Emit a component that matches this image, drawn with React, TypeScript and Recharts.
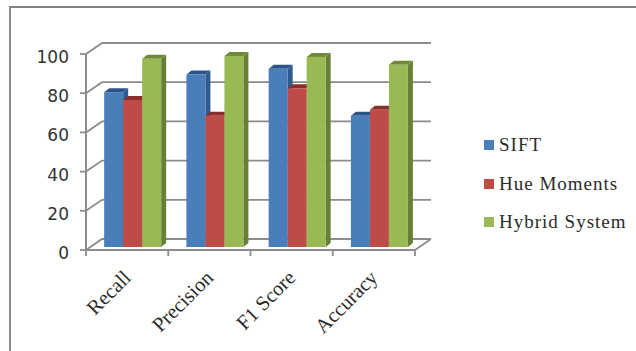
import { BarChart, Bar, XAxis, YAxis, CartesianGrid, Legend } from 'recharts';

const categories = ['Recall', 'Precision', 'F1 Score', 'Accuracy'];
const sift = [79, 88, 91, 67];
const hueMoments = [75, 67, 81, 70];
const hybridSystem = [96, 97.5, 97, 93];
const yTicks = [0, 20, 40, 60, 80, 100];

const data = categories.map((name, i) => ({
  name,
  sift: sift[i],
  hue: hueMoments[i],
  hybrid: hybridSystem[i],
}));

const series = [
  { key: 'sift', name: 'SIFT', front: '#4a7ebb', top: '#2c5487', side: '#2f5a8f' },
  { key: 'hue', name: 'Hue Moments', front: '#be4b48', top: '#8a2f2c', side: '#8a2f2c' },
  { key: 'hybrid', name: 'Hybrid System', front: '#98b954', top: '#6f8a3a', side: '#66803a' },
];

const WIDTH = 636;
const HEIGHT = 351;
const PLOT_LEFT = 86;
const PLOT_RIGHT = 415;
const AXIS = '#8c8c8c';
const TEXT = '#2b2b2b';
const SERIF = '"Liberation Serif", serif';

// depth of the fake 3d wall, and where the bars sit inside it
const WALL_X = 16;
const WALL_Y = 11;
const BAR_DX = 5;
const BAR_DY = 3;
const BAR_DEPTH_X = 5;
const BAR_DEPTH_Y = 4;

function Bar3D(props: any) {
  const { x, y, width, height, front, top, side } = props;
  const l = x + BAR_DX;
  const r = l + width;
  const t = y - BAR_DY;
  const b = t + height;
  const dx = BAR_DEPTH_X;
  const dy = BAR_DEPTH_Y;
  return (
    <g>
      <polygon points={`${l},${t} ${r},${t} ${r + dx},${t - dy} ${l + dx},${t - dy}`} fill={top} />
      <polygon points={`${r},${t} ${r + dx},${t - dy} ${r + dx},${b - dy} ${r},${b}`} fill={side} />
      <rect x={l} y={t} width={width} height={height} fill={front} />
    </g>
  );
}

function WallLine(props: any) {
  const { x1, x2, y1, index } = props;
  const isFloor = index === 0;
  return (
    <g fill="none" stroke={AXIS} strokeWidth={1.8}>
      <polyline points={`${x1},${y1} ${x1 + WALL_X},${y1 - WALL_Y} ${x2 + WALL_X},${y1 - WALL_Y}`} />
      {isFloor && <line x1={x2} y1={y1} x2={x2 + WALL_X} y2={y1 - WALL_Y} />}
    </g>
  );
}

function CategoryTick(props: any) {
  const { x, y, payload, index } = props;
  const band = (PLOT_RIGHT - PLOT_LEFT) / categories.length;
  const isLast = index === categories.length - 1;
  return (
    <g>
      <line x1={x - band / 2} y1={y - 8} x2={x - band / 2} y2={y - 2} stroke={AXIS} strokeWidth={1.8} />
      {isLast && <line x1={x + band / 2} y1={y - 8} x2={x + band / 2} y2={y - 2} stroke={AXIS} strokeWidth={1.8} />}
      <text
        x={x + 5}
        y={y + 21}
        textAnchor="end"
        transform={`rotate(-45 ${x + 5} ${y + 21})`}
        fontFamily={SERIF}
        fontSize={20.5}
        fill={TEXT}
      >
        {payload.value}
      </text>
    </g>
  );
}

function LegendList() {
  return (
    <div>
      {series.map((s) => (
        <div key={s.key} style={{ display: 'flex', alignItems: 'center', height: 38.5 }}>
          <span style={{ width: 10, height: 10, background: s.front, marginRight: 5, flex: 'none' }} />
          <span style={{ fontFamily: SERIF, fontSize: 19, color: TEXT, whiteSpace: 'nowrap', letterSpacing: 1 }}>
            {s.name}
          </span>
        </div>
      ))}
    </div>
  );
}

export default function App() {
  return (
    <div style={{ position: 'fixed', left: 0, top: 0, width: WIDTH, height: HEIGHT, background: '#fff', overflow: 'hidden' }}>
      <div style={{ position: 'absolute', left: 9, top: 6, right: -4, bottom: -4, borderLeft: `2px solid ${AXIS}`, borderTop: `2px solid #808080` }} />
      <div style={{ position: 'absolute', left: 0, top: 0 }}>
        <BarChart
          width={WIDTH}
          height={HEIGHT}
          data={data}
          margin={{ top: 54, right: WIDTH - PLOT_RIGHT, bottom: 0, left: 0 }}
          barCategoryGap="16%"
          barGap={0}
        >
          <CartesianGrid vertical={false} horizontal={(p: any) => <WallLine key={p.index} {...p} />} syncWithTicks />
          <XAxis
            dataKey="name"
            height={101}
            tickLine={false}
            interval={0}
            axisLine={{ stroke: AXIS, strokeWidth: 2 }}
            tick={(p: any) => <CategoryTick key={p.index} {...p} />}
          />
          <YAxis
            width={PLOT_LEFT}
            domain={[0, 100]}
            ticks={yTicks}
            interval={0}
            tickSize={6}
            tickMargin={11}
            tickLine={{ stroke: AXIS, strokeWidth: 1.8 }}
            axisLine={{ stroke: AXIS, strokeWidth: 2 }}
            tick={{ fill: '#333', fontFamily: '"DejaVu Sans", sans-serif', fontSize: 17, dy: 3 }}
          />
          {series.map((s) => (
            <Bar
              key={s.key}
              dataKey={s.key}
              name={s.name}
              isAnimationActive={false}
              shape={(p: any) => <Bar3D {...p} front={s.front} top={s.top} side={s.side} />}
            />
          ))}
          <Legend
            layout="vertical"
            align="center"
            verticalAlign="middle"
            content={() => <LegendList />}
            wrapperStyle={{ left: 484, top: 126, width: 150 }}
          />
        </BarChart>
      </div>
    </div>
  );
}
